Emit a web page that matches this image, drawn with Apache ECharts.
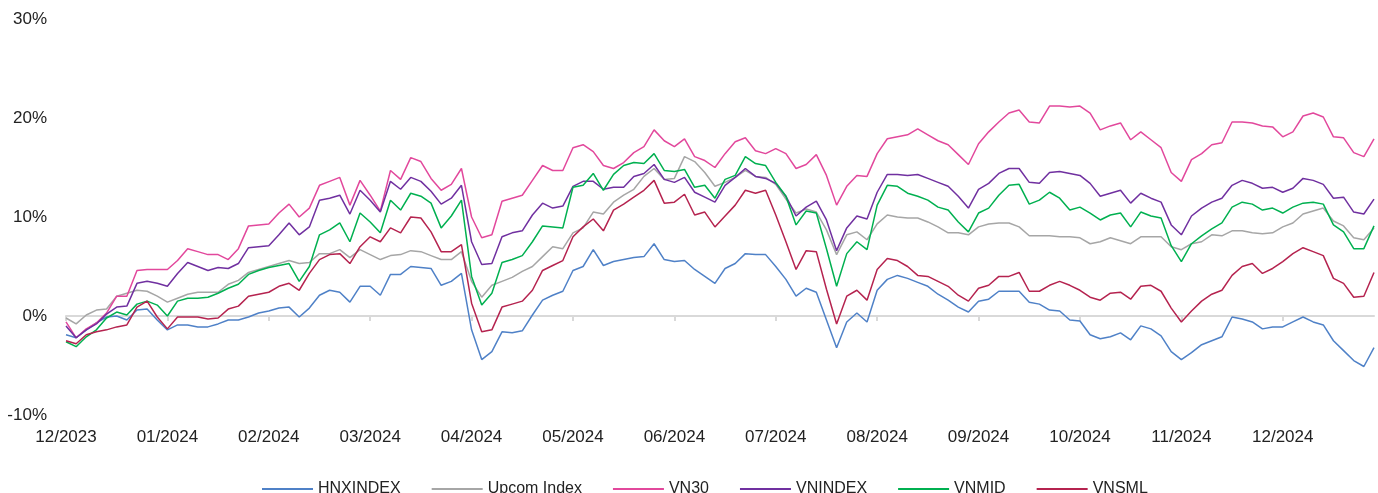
<!DOCTYPE html>
<html>
<head>
    <meta charset="UTF-8">
    <title>Index performance 2024</title>
    <script src="https://cdn.jsdelivr.net/npm/echarts@6/dist/echarts.min.js"></script>
    <style>
        html, body { margin: 0; padding: 0; background: #fff; }
        #chart { width: 1378px; height: 493px; }
    </style>
</head>
<body>
<div id="chart"></div>
<script type="text/javascript">
    // month labels, one every 10 points on the x axis
    var monthLabels = ['12/2023', '01/2024', '02/2024', '03/2024', '04/2024', '05/2024', '06/2024',
        '07/2024', '08/2024', '09/2024', '10/2024', '11/2024', '12/2024'];
    var pointsPerMonth = 10;

    // cumulative change, %
    var hnxIndex = [-1.9, -2.2, -1.4, -0.7, -0.1, 0.0, -0.4, 0.6, 0.7, -0.4,
        -1.4, -0.9, -0.9, -1.1, -1.1, -0.8, -0.4, -0.4, -0.1, 0.3,
        0.5, 0.8, 0.9, -0.1, 0.8, 2.1, 2.6, 2.4, 1.4, 3.0,
        3.0, 2.1, 4.2, 4.2, 5.0, 4.9, 4.8, 3.1, 3.5, 4.3,
        -1.4, -4.4, -3.6, -1.6, -1.7, -1.5, 0.1, 1.6, 2.1, 2.5,
        4.6, 5.0, 6.7, 5.1, 5.5, 5.7, 5.9, 6.0, 7.3, 5.7,
        5.5, 5.6, 4.7, 4.0, 3.3, 4.8, 5.3, 6.3, 6.2, 6.2,
        5.0, 3.7, 2.0, 2.8, 2.4, -0.4, -3.2, -0.6, 0.3, -0.6,
        2.6, 3.7, 4.1, 3.8, 3.4, 3.0, 2.2, 1.6, 0.9, 0.4,
        1.5, 1.7, 2.5, 2.5, 2.5, 1.4, 1.2, 0.6, 0.5, -0.4,
        -0.5, -1.9, -2.3, -2.1, -1.7, -2.4, -1.0, -1.3, -2.0, -3.6,
        -4.4, -3.7, -2.9, -2.5, -2.1, -0.1, -0.3, -0.6, -1.3, -1.1,
        -1.1, -0.6, -0.1, -0.6, -0.9, -2.5, -3.5, -4.5, -5.1, -3.2];
    var upcomIndex = [-0.2, -0.8, 0.1, 0.6, 0.7, 2.0, 2.3, 2.6, 2.5, 2.0,
        1.4, 1.8, 2.2, 2.4, 2.4, 2.4, 3.2, 3.6, 4.4, 4.7,
        5.0, 5.3, 5.6, 5.3, 5.4, 6.3, 6.3, 6.7, 5.9, 6.7,
        6.2, 5.7, 6.1, 6.2, 6.6, 6.5, 6.1, 5.7, 5.7, 6.5,
        3.5, 1.9, 3.1, 3.5, 3.9, 4.5, 5.0, 6.0, 7.0, 6.8,
        8.4, 8.9, 10.5, 10.3, 11.5, 12.2, 12.8, 14.1, 14.9, 13.8,
        13.9, 16.1, 15.6, 14.5, 13.1, 13.5, 14.0, 14.7, 14.1, 14.0,
        13.3, 11.8, 10.4, 10.8, 10.5, 8.7, 6.2, 8.2, 8.5, 7.7,
        9.3, 10.2, 10.0, 9.9, 9.9, 9.5, 9.0, 8.4, 8.4, 8.2,
        9.0, 9.3, 9.4, 9.4, 9.0, 8.1, 8.1, 8.1, 8.0, 8.0,
        7.9, 7.3, 7.5, 7.9, 7.6, 7.3, 8.0, 8.0, 8.0, 7.0,
        6.7, 7.3, 7.5, 8.2, 8.1, 8.6, 8.6, 8.4, 8.3, 8.4,
        9.0, 9.4, 10.3, 10.6, 10.9, 9.6, 9.1, 7.9, 7.7, 8.9];
    var vn30 = [-0.6, -2.2, -1.3, -0.7, 0.3, 2.0, 2.0, 4.6, 4.7, 4.7,
        4.7, 5.6, 6.8, 6.5, 6.2, 6.2, 5.7, 6.8, 9.1, 9.2,
        9.3, 10.4, 11.3, 10.0, 10.9, 13.2, 13.6, 14.0, 11.2, 13.7,
        12.2, 10.6, 14.7, 13.8, 16.0, 15.6, 13.9, 12.7, 13.3, 14.9,
        10.0, 7.9, 8.2, 11.6, 11.9, 12.2, 13.7, 15.2, 14.7, 14.7,
        17.0, 17.3, 16.6, 15.2, 14.9, 15.5, 16.5, 17.1, 18.8, 17.7,
        17.1, 17.9, 16.1, 15.7, 15.0, 16.4, 17.6, 18.0, 16.7, 16.4,
        16.9, 16.4, 14.9, 15.3, 16.3, 14.2, 11.2, 13.1, 14.2, 14.1,
        16.4, 17.9, 18.1, 18.3, 18.9, 18.3, 17.7, 17.3, 16.3, 15.3,
        17.4, 18.6, 19.6, 20.5, 20.8, 19.6, 19.5, 21.2, 21.2, 21.1,
        21.2, 20.5, 18.8, 19.2, 19.5, 17.8, 18.6, 17.8, 17.0, 14.5,
        13.6, 15.8, 16.4, 17.3, 17.5, 19.6, 19.6, 19.5, 19.2, 19.1,
        18.1, 18.6, 20.2, 20.5, 20.1, 18.1, 18.0, 16.5, 16.1, 17.9];
    var vnIndex = [-1.0, -2.2, -1.4, -0.8, 0.2, 0.9, 1.0, 3.3, 3.5, 3.3,
        3.0, 4.3, 5.4, 5.0, 4.6, 4.9, 4.8, 5.3, 6.9, 7.0,
        7.1, 8.2, 9.4, 8.2, 9.0, 11.7, 11.9, 12.2, 10.3, 12.7,
        11.7, 10.5, 13.6, 12.8, 14.0, 13.6, 12.6, 11.3, 11.9, 13.2,
        7.5, 5.2, 5.3, 8.0, 8.4, 8.6, 10.2, 11.4, 10.9, 11.1,
        13.1, 13.6, 13.6, 12.8, 13.0, 13.0, 14.1, 14.4, 15.3, 13.8,
        13.5, 14.0, 12.5, 12.0, 11.5, 13.2, 14.0, 14.9, 14.1, 13.9,
        13.4, 12.1, 10.1, 11.0, 11.6, 9.7, 6.6, 8.9, 10.1, 9.8,
        12.5, 14.3, 14.3, 14.2, 14.3, 13.9, 13.5, 13.1, 12.1, 10.9,
        12.8, 13.4, 14.4, 14.9, 14.9, 13.5, 13.4, 14.5, 14.6, 14.4,
        14.2, 13.4, 12.1, 12.4, 12.7, 11.4, 12.4, 11.9, 11.5, 9.2,
        8.2, 10.1, 10.9, 11.5, 11.9, 13.2, 13.7, 13.4, 12.9, 13.0,
        12.5, 12.9, 13.9, 13.7, 13.3, 11.9, 12.0, 10.5, 10.3, 11.8];
    var vnMid = [-2.6, -3.1, -2.1, -1.4, -0.2, 0.4, 0.1, 1.2, 1.5, 1.1,
        0.0, 1.5, 1.8, 1.8, 1.9, 2.3, 2.8, 3.2, 4.2, 4.6,
        4.9, 5.1, 5.3, 3.5, 5.0, 8.2, 8.7, 9.4, 7.5, 10.4,
        9.5, 8.4, 11.7, 10.7, 12.4, 12.1, 11.4, 8.9, 10.1, 11.7,
        4.0, 1.1, 2.3, 5.4, 5.7, 6.1, 7.5, 9.1, 9.0, 8.9,
        13.0, 13.2, 14.4, 12.7, 14.3, 15.2, 15.5, 15.4, 16.4, 14.7,
        14.6, 14.8, 13.0, 13.2, 11.9, 13.8, 14.2, 16.1, 15.4, 15.2,
        13.5, 12.1, 9.2, 10.6, 10.4, 6.8, 3.0, 6.3, 7.5, 6.7,
        11.2, 13.2, 13.1, 12.4, 12.1, 11.7, 11.0, 10.7, 9.5, 8.5,
        10.4, 10.9, 12.2, 13.2, 13.3, 11.3, 11.7, 12.5, 11.9, 10.7,
        11.0, 10.4, 9.7, 10.2, 10.4, 9.0, 10.5, 10.1, 9.9, 7.1,
        5.5, 7.3, 8.1, 8.8, 9.4, 11.0, 11.5, 11.3, 10.7, 10.9,
        10.4, 11.0, 11.4, 11.5, 11.3, 9.2, 8.5, 6.8, 6.8, 9.1];
    var vnSml = [-2.5, -2.8, -1.9, -1.6, -1.4, -1.1, -0.9, 0.9, 1.5, -0.1,
        -1.3, -0.1, -0.1, -0.1, -0.3, -0.2, 0.7, 1.0, 2.0, 2.2,
        2.4, 3.0, 3.3, 2.6, 4.3, 5.7, 6.2, 6.3, 5.3, 7.0,
        8.0, 7.5, 8.9, 8.4, 10.0, 9.9, 8.5, 6.5, 6.5, 7.2,
        1.3, -1.6, -1.4, 0.9, 1.2, 1.5, 2.6, 4.6, 5.1, 5.6,
        8.0, 9.0, 9.8, 8.6, 10.7, 11.3, 12.0, 12.7, 13.7, 11.4,
        11.5, 12.3, 10.2, 10.5, 9.0, 10.1, 11.2, 12.7, 12.4, 12.7,
        10.2, 7.5, 4.7, 6.6, 6.5, 2.7, -0.8, 2.0, 2.6, 1.6,
        4.7, 5.8, 5.6, 5.0, 4.1, 4.0, 3.5, 3.0, 2.1, 1.5,
        2.8, 3.1, 4.0, 4.0, 4.4, 2.5, 2.5, 3.1, 3.5, 3.1,
        2.6, 1.9, 1.6, 2.3, 2.4, 1.7, 3.0, 3.1, 2.5, 0.8,
        -0.6, 0.5, 1.5, 2.2, 2.6, 4.1, 5.0, 5.3, 4.3, 4.8,
        5.5, 6.3, 6.9, 6.5, 6.1, 3.8, 3.3, 1.9, 2.0, 4.4];

    var seriesNames = ['HNXINDEX', 'Upcom Index', 'VN30', 'VNINDEX', 'VNMID', 'VNSML'];
    var seriesColors = ['#4F81C7', '#A6A6A6', '#E2489C', '#7030A0', '#00B050', '#B5234F'];
    var seriesData = [hnxIndex, upcomIndex, vn30, vnIndex, vnMid, vnSml];

    var days = [];
    for (var i = 0; i < hnxIndex.length; i++) days.push(String(i));

    var chart = echarts.init(document.getElementById('chart'));
    var font = 'Liberation Sans, Arial, sans-serif';

    var option = {
        animation: false,
        textStyle: { fontFamily: font },
        grid: { left: 66, right: 4, top: 19, bottom: 78 },
        legend: {
            left: 257,
            top: 476,
            itemGap: 31,
            itemWidth: 51,
            itemHeight: 2,
            icon: 'rect',
            textStyle: { fontSize: 16, color: '#222', fontFamily: font },
            data: seriesNames
        },
        xAxis: [{
            type: 'category',
            data: days,
            boundaryGap: false,
            axisLine: { show: false, onZero: false },
            axisTick: { show: false },
            axisLabel: {
                interval: pointsPerMonth - 1,
                margin: 14,
                fontSize: 17,
                color: '#222',
                formatter: function (v, idx) { return monthLabels[idx / pointsPerMonth] || ''; }
            }
        }, {
            // zero line with the month ticks
            type: 'category',
            data: days,
            position: 'top',
            boundaryGap: false,
            axisLine: { show: true, onZero: true, lineStyle: { color: '#D9D9D9', width: 2 } },
            axisTick: { show: true, inside: true, length: 5, interval: pointsPerMonth - 1, lineStyle: { color: '#D9D9D9', width: 2 } },
            axisLabel: { show: false }
        }],
        yAxis: {
            type: 'value',
            min: -10,
            max: 30,
            interval: 10,
            splitLine: { show: false },
            axisLine: { show: false },
            axisTick: { show: false },
            axisLabel: { formatter: '{value}%', fontSize: 17, color: '#222', margin: 19 }
        },
        series: seriesNames.map(function (name, k) {
            return {
                name: name,
                type: 'line',
                xAxisIndex: 0,
                data: seriesData[k],
                symbol: 'none',
                color: seriesColors[k],
                lineStyle: { width: 1.5, color: seriesColors[k] }
            };
        })
    };
    chart.setOption(option);
</script>
</body>
</html>
